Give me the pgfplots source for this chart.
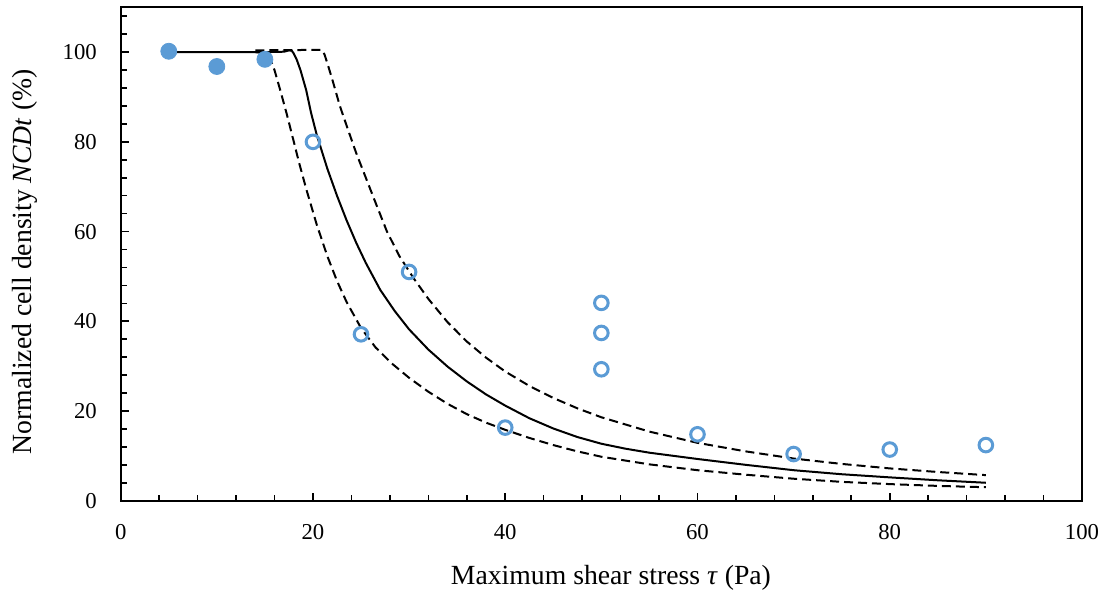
\documentclass[border=0pt]{standalone}
\usepackage{fontspec}
\setmainfont{Liberation Serif}
\usepackage{pgfplots}
\pgfplotsset{compat=1.18}
\definecolor{ptblue}{HTML}{5B9BD5}

\begin{document}
\fontsize{11.4}{13}\selectfont
\begin{tikzpicture}
\useasboundingbox (-60.35bp,-47.15bp) rectangle (493.15bp,250.35bp);
\begin{axis}[
  at={(0,0)}, anchor=south west, scale only axis,
  width=480.65bp, height=246.7bp,
  xmin=0, xmax=100, ymin=0, ymax=110,
  xtick={0,20,...,100}, ytick={0,20,...,100},
  minor xtick={4,8,...,96}, minor ytick={4,8,...,108},
  tick align=inside, xtick pos=bottom, ytick pos=left,
  major tick length=4bp, minor tick length=3bp,
  every tick/.style={black, line width=0.8bp},
  axis line style={black, line width=1bp},
  tick label style={font=\fontsize{11.4}{13}\selectfont},
  /pgf/number format/assume math mode=true,
  xticklabel style={yshift=-8bp},
  yticklabel style={xshift=-8bp},
  label style={font=\fontsize{13.9}{16}\selectfont},
  xlabel={Maximum shear stress \textit{τ} (Pa)},
  ylabel={Normalized cell density \textit{NCDt} (\%)},
  xlabel style={at={(axis description cs:0.51,-0.1567)}, anchor=center},
  ylabel style={at={(axis description cs:-0.0996,0.4838)}, anchor=center},
]
% fitted curve
\addplot[black, line width=1bp] coordinates {
  (5,100) (10,100) (15,100) (17,100.1) (17.5,100.4) (17.8,100.3) (18.0,99.7)
  (18.3,98.4) (18.7,96) (19.3,91.5) (19.8,86.5) (20.4,81.5) (21.5,74)
  (22.5,68) (23.5,62.5) (24.5,57.5) (25.5,53) (27,47) (28.5,42.3) (30,38.2)
  (32,33.7) (34,29.9) (36,26.6) (38,23.7) (40,21.2) (42.5,18.4) (45,16.1)
  (47.5,14.2) (50,12.7) (52.5,11.6) (55,10.7) (60,9.3) (65,8.0) (70,6.8)
  (75,5.9) (80,5.2) (85,4.55) (90,4.0)
};
% upper bound
\addplot[black, line width=1bp, dash pattern=on 4.5bp off 2.5bp] coordinates {
  (14,100.4) (20,100.5) (20.9,100.5) (21.2,99.5) (21.5,97.5) (22,94)
  (22.8,88) (23.6,83) (24.5,77.5) (25.5,72) (26.5,66.5) (27.7,60) (29,54.5)
  (30.5,49.5) (32,45) (34,39.8) (36,35.5) (38,31.9) (40,28.8) (42.5,25.6)
  (45,22.9) (47.5,20.6) (50,18.6) (55,15.4) (60,12.9) (65,11.0) (70,9.4)
  (75,8.2) (80,7.2) (85,6.4) (90,5.7)
};
% lower bound
\addplot[black, line width=1bp, dash pattern=on 4.5bp off 2.5bp] coordinates {
  (14,100) (15,99.8) (15.5,98.8) (16,96) (16.6,91.5) (17.3,86) (17.95,80.5)
  (18.6,75) (19.3,69.5) (20.4,61.5) (21.5,54.5) (22.5,49) (23.5,44.3)
  (25,38.5) (26.5,34.2) (28.2,30.6) (30,27.4) (32,24.3) (34,21.6) (36,19.3)
  (38,17.4) (40,15.8) (42.5,14.0) (45,12.4) (47.5,11.0) (50,9.8) (55,8.1)
  (60,6.8) (65,5.8) (70,4.9) (75,4.2) (80,3.7) (85,3.3) (90,3.0)
};
% surviving
\addplot[only marks, mark=*, mark size=4bp, mark options={draw=ptblue, fill=ptblue}] coordinates {
  (5,100.2) (10,96.8) (15,98.4)
};
% detached
\addplot[only marks, mark=o, mark size=3.4bp, mark options={draw=ptblue, line width=1.5bp}] coordinates {
  (20,80) (25,37.1) (30,51) (40,16.3) (50,44.1) (50,37.4) (50,29.3)
  (60,14.8) (70,10.4) (80,11.4) (90,12.4)
};
\end{axis}
\end{tikzpicture}
\end{document}
